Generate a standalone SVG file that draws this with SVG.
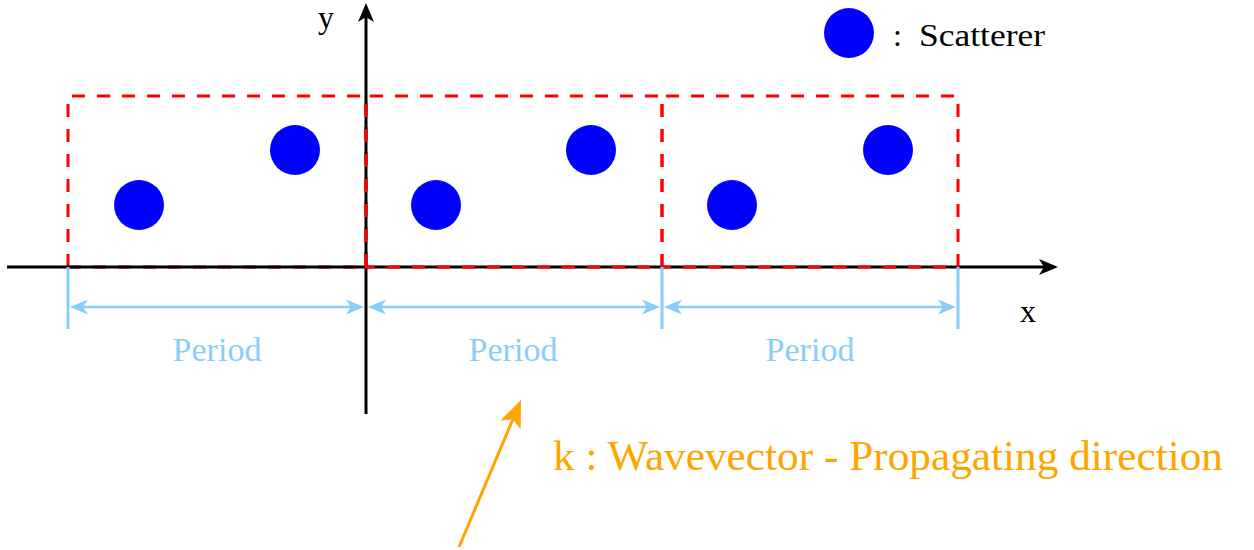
<svg xmlns="http://www.w3.org/2000/svg" xmlns:xlink="http://www.w3.org/1999/xlink" width="1254" height="550" viewBox="0 0 1254 550">
<style>
text{font-family:"Liberation Serif","Times New Roman",serif;}
.lbl{font-size:32px;fill:#000;}
.per{font-size:34px;fill:#87CEFA;text-anchor:middle;}
.cell{fill:none;stroke:#FF0000;stroke-width:3;stroke-dasharray:13 12;}
.sc{fill:#0000FF;}
.axis{stroke:#000;stroke-width:3;fill:none;}
.dim{stroke:#87CEFA;stroke-width:2.5;fill:none;}
.tick{stroke:#87CEFA;stroke-width:3;fill:none;}
</style>
<defs>
<path id="headBlack" d="M0,0 L-19,-8 L-14,0 L-19,8 Z" fill="#000"/>
<path id="headBlue" d="M0,0 L-18,-7.5 L-13,0 L-18,7.5 Z" fill="#87CEFA"/>
<path id="headOrange" d="M0,0 L-27,-11 L-21,0 L-27,11 Z" fill="#FFA500"/>
</defs>

<g id="cell1">
<path class="cell" d="M68,267 L68,96 L366,96 L366,267 Z"/>
</g>

<g id="connectors">
<line class="axis" x1="7" y1="267" x2="1046" y2="267"/>
<use xlink:href="#headBlack" href="#headBlack" transform="translate(1058,267)"/>
<line class="axis" x1="366" y1="414" x2="366" y2="15"/>
<use xlink:href="#headBlack" href="#headBlack" transform="translate(366,3) rotate(-90)"/>
<line class="dim" x1="80" y1="307" x2="354" y2="307"/>
<use xlink:href="#headBlue" href="#headBlue" transform="translate(70,307) rotate(180)"/>
<use xlink:href="#headBlue" href="#headBlue" transform="translate(364,307)"/>
<line class="dim" x1="378" y1="307" x2="650" y2="307"/>
<use xlink:href="#headBlue" href="#headBlue" transform="translate(368,307) rotate(180)"/>
<use xlink:href="#headBlue" href="#headBlue" transform="translate(660,307)"/>
<line class="dim" x1="674" y1="307" x2="946" y2="307"/>
<use xlink:href="#headBlue" href="#headBlue" transform="translate(664,307) rotate(180)"/>
<use xlink:href="#headBlue" href="#headBlue" transform="translate(956,307)"/>
<line x1="459" y1="547" x2="513" y2="419" stroke="#FFA500" stroke-width="3"/>
<use xlink:href="#headOrange" href="#headOrange" transform="translate(521,400) rotate(-67.1)"/>
</g>

<g id="cell2">
<path class="cell" d="M366,267 L366,96 L662,96 L662,267 Z"/>
</g>
<g id="cell3">
<path class="cell" d="M662,267 L662,96 L958,96 L958,267 Z"/>
</g>

<g id="ticks">
<line class="tick" x1="68" y1="267" x2="68" y2="329"/>
<line class="tick" x1="662" y1="267" x2="662" y2="329"/>
<line class="tick" x1="958" y1="267" x2="958" y2="329"/>
</g>

<g id="scatterers">
<circle class="sc" cx="139" cy="205" r="25"/>
<circle class="sc" cx="295" cy="150" r="25"/>
<circle class="sc" cx="436" cy="205" r="25"/>
<circle class="sc" cx="591" cy="150" r="25"/>
<circle class="sc" cx="732" cy="205" r="25"/>
<circle class="sc" cx="888" cy="150" r="25"/>
</g>

<g id="legend">
<circle class="sc" cx="849" cy="33" r="25"/>
<text class="lbl" font-family="Liberation Serif, serif" font-size="34" x="893" y="46">:</text>
<text class="lbl" font-family="Liberation Serif, serif" font-size="34" x="919" y="46" textLength="126" lengthAdjust="spacingAndGlyphs">Scatterer</text>
</g>

<g id="axis-labels">
<text class="lbl" font-family="Liberation Serif, serif" x="326" y="28" text-anchor="middle">y</text>
<text class="lbl" font-family="Liberation Serif, serif" x="1028" y="322" text-anchor="middle">x</text>
</g>

<g id="period-labels">
<text class="per" font-family="Liberation Serif, serif" x="217" y="361">Period</text>
<text class="per" font-family="Liberation Serif, serif" x="513" y="361">Period</text>
<text class="per" font-family="Liberation Serif, serif" x="810" y="361">Period</text>
</g>

<g id="wavevector-label">
<text font-family="Liberation Serif, serif" x="553" y="470" font-size="42" fill="#FFA500" textLength="670" lengthAdjust="spacingAndGlyphs">k : Wavevector - Propagating direction</text>
</g>
</svg>
